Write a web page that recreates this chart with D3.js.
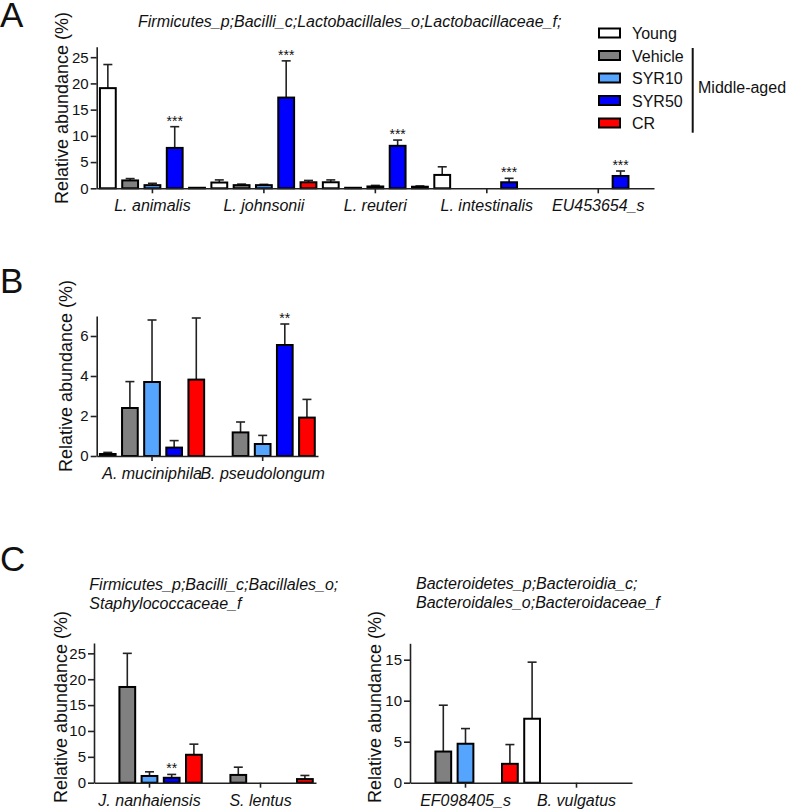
<!DOCTYPE html>
<html><head><meta charset="utf-8">
<script src="https://cdn.jsdelivr.net/npm/d3@7"></script>
<style>
body{margin:0;background:#fff}
svg{display:block}
text{font-family:"Liberation Sans",Arial,Helvetica,sans-serif;fill:#111}
</style>
</head><body>
<svg id="chart" width="787" height="810"></svg>
<script>
// ---------- data ----------
const groups = ["Young", "Vehicle", "SYR10", "SYR50", "CR"];
const groupColors = ["#ffffff", "#808080", "#55a5ff", "#0000ff", "#ff0000"];

// Panel A: Lactobacillaceae
const catsA = ["L. animalis", "L. johnsonii", "L. reuteri", "L. intestinalis", "EU453654_s"];
const youngA = [19.1, 1.1, 1.15, 2.55, 0];
const youngErrA = [23.6, 1.6, 1.6, 4.1, null];
const vehicleA = [1.5, 0.6, 0.1, null, null];
const vehicleErrA = [1.85, 0.8, null, null, null];
const syr10A = [0.6, 0.6, 0.35, null, 0];
const syr10ErrA = [0.95, 0.75, 0.55, null, null];
const syr50A = [7.7, 17.3, 8.1, 1.15, 2.35];
const syr50ErrA = [11.75, 24.3, 9.2, 1.9, 3.3];
const crA = [0.1, 1.15, 0.3, 0, 0];
const crErrA = [null, 1.5, 0.45, null, null];
const starsA = ["***", "***", "***", "***", "***"];
const ticksA = [0, 5, 10, 15, 20, 25];

// Panel B
const catsB = ["A. muciniphila", "B. pseudolongum"];
const youngB = [0.1, 0];
const youngErrB = [0.18, null];
const vehicleB = [2.4, 1.18];
const vehicleErrB = [3.72, 1.7];
const syr10B = [3.7, 0.6];
const syr10ErrB = [6.8, 1.03];
const syr50B = [0.42, 5.55];
const syr50ErrB = [0.77, 6.6];
const crB = [3.82, 1.92];
const crErrB = [6.9, 2.83];
const starsB = [null, "**"];
const ticksB = [0, 2, 4, 6];

// Panel C (left): Staphylococcaceae
const catsC1 = ["J. nanhaiensis", "S. lentus"];
const youngC1 = [0, null];
const youngErrC1 = [null, null];
const vehicleC1 = [18.5, 1.5];
const vehicleErrC1 = [25, 3.0];
const syr10C1 = [1.3, 0];
const syr10ErrC1 = [2.1, null];
const syr50C1 = [0.95, null];
const syr50ErrC1 = [1.6, null];
const crC1 = [5.4, 0.7];
const crErrC1 = [7.45, 1.4];
const starsC1 = ["**", null];
const ticksC1 = [0, 5, 10, 15, 20, 25];

// Panel C (right): Bacteroidaceae
const catsC2 = ["EF098405_s", "B. vulgatus"];
const youngC2 = [null, 7.8];
const youngErrC2 = [null, 14.7];
const vehicleC2 = [3.8, 0];
const vehicleErrC2 = [9.45, null];
const syr10C2 = [4.75, null];
const syr10ErrC2 = [6.6, null];
const syr50C2 = [null, null];
const syr50ErrC2 = [null, null];
const crC2 = [2.3, null];
const crErrC2 = [4.65, null];
const starsC2 = [null, null];
const ticksC2 = [0, 5, 10, 15];

// ---------- drawing ----------
const svg = d3.select("#chart");
const AX = "#222";
const FONT = '"Liberation Sans",Arial,sans-serif';

function drawPanel(o) {
  const g = svg.append("g");
  const x0 = d3.scaleBand().domain(o.cats).range([o.left, o.right]).padding(0);
  const x1 = d3.scaleBand().domain(groups).range([0, x0.bandwidth()]).paddingInner(0.2).paddingOuter(0.1);
  const y = d3.scaleLinear().domain([0, o.ymax]).range([o.bottom, o.top]);

  const rows = [];
  o.cats.forEach((c, i) => {
    groups.forEach((gname, k) => {
      const v = o.means[k][i];
      if (v === null || v === undefined) return;
      rows.push({cat: c, group: gname, k, v, e: o.errs[k][i], star: k === 3 ? o.stars[i] : null});
    });
  });

  // error bars
  const eb = g.append("g").attr("stroke", AX).attr("stroke-width", 1.6).attr("fill", "none");
  rows.filter(d => d.e !== null && d.e !== undefined).forEach(d => {
    const cx = x0(d.cat) + x1(d.group) + x1.bandwidth() / 2;
    eb.append("line").attr("x1", cx).attr("x2", cx).attr("y1", y(d.v)).attr("y2", y(d.e));
    eb.append("line").attr("x1", cx - 4.5).attr("x2", cx + 4.5).attr("y1", y(d.e)).attr("y2", y(d.e));
  });

  // bars
  g.append("g").selectAll("rect").data(rows).join("rect")
    .attr("x", d => x0(d.cat) + x1(d.group) + 1)
    .attr("width", x1.bandwidth() - 2)
    .attr("y", d => y(d.v))
    .attr("height", d => Math.max(0, y(0) - y(d.v)))
    .attr("fill", d => groupColors[d.k])
    .attr("stroke", "#000")
    .attr("stroke-width", 2);

  // significance stars
  g.append("g").selectAll("text").data(rows.filter(d => d.star)).join("text")
    .attr("x", d => x0(d.cat) + x1(d.group) + x1.bandwidth() / 2)
    .attr("y", d => y(d.e !== null ? d.e : d.v) - 1)
    .attr("text-anchor", "middle")
    .attr("font-size", 14)
    .text(d => d.star);

  // y axis
  const ya = g.append("g").attr("transform", `translate(${o.left},0)`)
    .call(d3.axisLeft(y).tickValues(o.ticks).tickFormat(d3.format("d"))
      .tickSize(6).tickSizeOuter(0).tickPadding(2));
  ya.select(".domain").attr("stroke", AX).attr("stroke-width", 1.6);
  ya.selectAll(".tick line").attr("stroke", AX).attr("stroke-width", 1.6);
  ya.selectAll(".tick text").attr("font-size", 15).attr("fill", "#111").attr("font-family", FONT);

  // x axis
  const xa = g.append("g").attr("transform", `translate(0,${o.bottom})`)
    .call(d3.axisBottom(x0).tickSize(5).tickSizeOuter(0).tickPadding(6.5));
  xa.select(".domain").attr("stroke", AX).attr("stroke-width", 1.6);
  xa.selectAll(".tick line").attr("stroke", AX).attr("stroke-width", 1.6);
  xa.selectAll(".tick text").attr("font-size", 16).attr("fill", "#111")
    .attr("font-style", "italic").attr("font-family", FONT);

  // y label
  g.append("text")
    .attr("transform", `translate(${o.ylabX},${o.ylabY}) rotate(-90)`)
    .attr("text-anchor", "middle")
    .attr("font-size", 18)
    .text("Relative abundance (%)");

  // title
  if (o.title) {
    o.title.forEach((t, i) => {
      g.append("text").attr("x", o.titleX).attr("y", o.titleY + i * 19)
        .attr("font-size", 16).attr("font-style", "italic").text(t);
    });
  }
}

function pick(a, b, c, d, e) { return [a, b, c, d, e]; }

drawPanel({
  cats: catsA, left: 96.7, right: 654, bottom: 188.3, top: 46.7, ymax: 27, ticks: ticksA,
  means: pick(youngA, vehicleA, syr10A, syr50A, crA),
  errs: pick(youngErrA, vehicleErrA, syr10ErrA, syr50ErrA, crErrA),
  stars: starsA, ylabX: 68, ylabY: 108,
  title: ["Firmicutes_p;Bacilli_c;Lactobacillales_o;Lactobacillaceae_f;"], titleX: 138, titleY: 27
});
drawPanel({
  cats: catsB, left: 96.7, right: 318, bottom: 456, top: 316, ymax: 7, ticks: ticksB,
  means: pick(youngB, vehicleB, syr10B, syr50B, crB),
  errs: pick(youngErrB, vehicleErrB, syr10ErrB, syr50ErrB, crErrB),
  stars: starsB, ylabX: 72, ylabY: 376
});
drawPanel({
  cats: catsC1, left: 94, right: 316, bottom: 782.7, top: 643, ymax: 27, ticks: ticksC1,
  means: pick(youngC1, vehicleC1, syr10C1, syr50C1, crC1),
  errs: pick(youngErrC1, vehicleErrC1, syr10ErrC1, syr50ErrC1, crErrC1),
  stars: starsC1, ylabX: 67, ylabY: 707,
  title: ["Firmicutes_p;Bacilli_c;Bacillales_o;", "Staphylococcaceae_f"], titleX: 89.3, titleY: 589.5
});
drawPanel({
  cats: catsC2, left: 410, right: 632, bottom: 782.7, top: 643.3, ymax: 17, ticks: ticksC2,
  means: pick(youngC2, vehicleC2, syr10C2, syr50C2, crC2),
  errs: pick(youngErrC2, vehicleErrC2, syr10ErrC2, syr50ErrC2, crErrC2),
  stars: starsC2, ylabX: 381, ylabY: 707,
  title: ["Bacteroidetes_p;Bacteroidia_c;", "Bacteroidales_o;Bacteroidaceae_f"], titleX: 416, titleY: 589
});

// panel letters
[["A", 27], ["B", 293], ["C", 571]].forEach(([t, yb]) => {
  svg.append("text").attr("x", 0).attr("y", yb).attr("font-size", 35).text(t);
});

// legend
const legend = svg.append("g");
const ly = d3.scalePoint().domain(groups).range([33, 123]);
legend.selectAll("rect").data(groups).join("rect")
  .attr("x", 599).attr("y", d => ly(d) - 4.5).attr("width", 21).attr("height", 9)
  .attr("fill", (d, i) => groupColors[i]).attr("stroke", "#000").attr("stroke-width", 2);
legend.selectAll("text").data(groups).join("text")
  .attr("x", 632).attr("y", d => ly(d) + 6).attr("font-size", 16).text(d => d);
legend.append("line").attr("x1", 692.7).attr("x2", 692.7).attr("y1", 48).attr("y2", 132.7)
  .attr("stroke", "#111").attr("stroke-width", 2);
legend.append("text").attr("x", 698).attr("y", 92.5).attr("font-size", 16).text("Middle-aged");
</script>
</body></html>
